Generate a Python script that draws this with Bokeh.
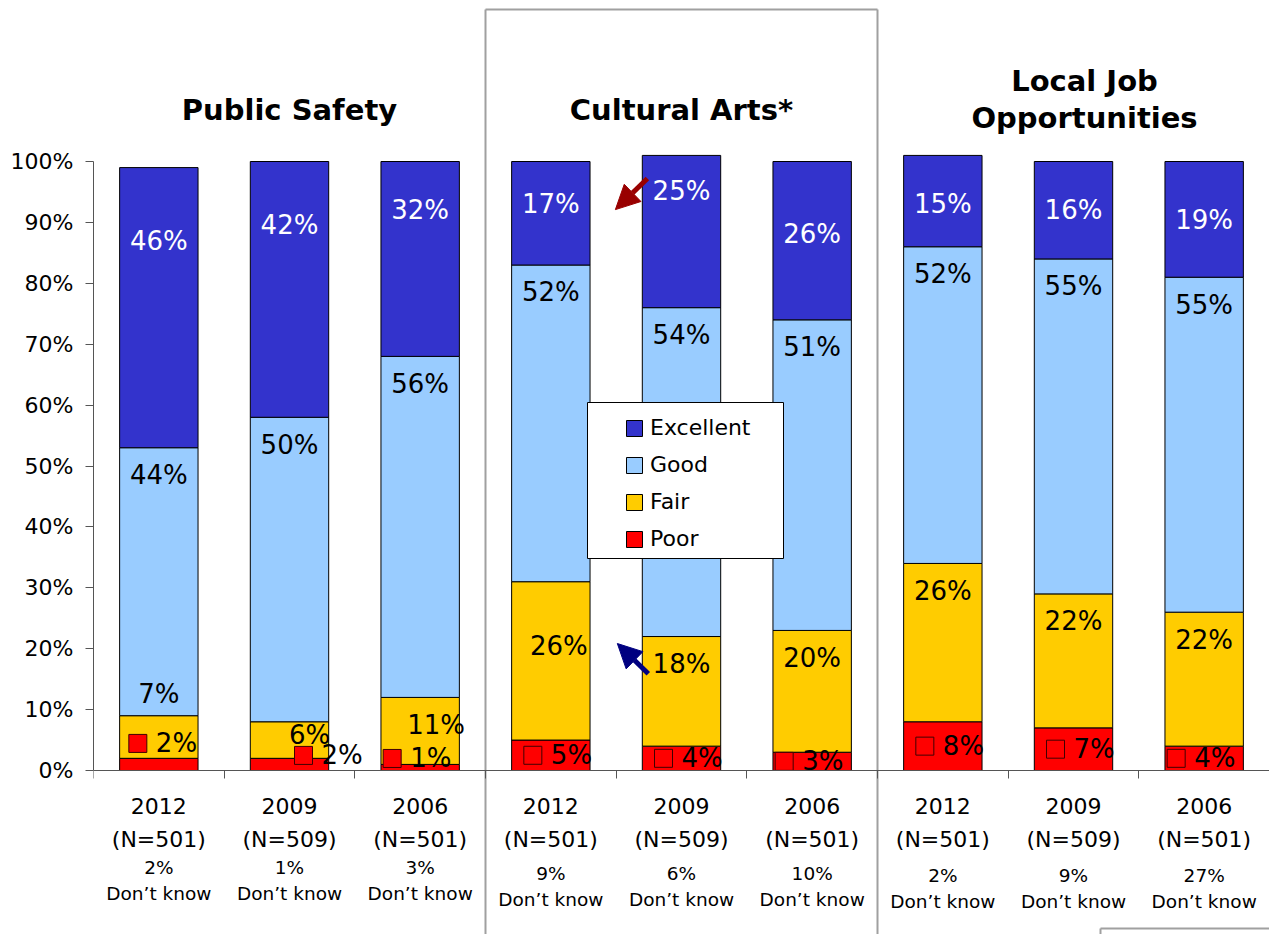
from bokeh.plotting import figure
from bokeh.models import (ColumnDataSource, LinearAxis, FixedTicker, Legend, LegendItem,
                          Arrow, NormalHead, BoxAnnotation, Range1d)
from bokeh.core.properties import value
from bokeh.embed import file_html
from bokeh.resources import INLINE

# ---------------- data ----------------
groups = ["Public Safety", "Cultural Arts*", "Local Job\nOpportunities"]
years = ["2012", "2009", "2006"] * 3
sample_n = ["501", "509", "501"] * 3
dont_know = [2, 1, 3, 9, 6, 10, 2, 9, 27]
series = ["Excellent", "Good", "Fair", "Poor"]
excellent = [46, 42, 32, 17, 25, 26, 15, 16, 19]
good = [44, 50, 56, 52, 54, 51, 52, 55, 55]
fair = [7, 6, 11, 26, 18, 20, 26, 22, 22]
poor = [2, 2, 1, 5, 4, 3, 8, 7, 4]
y_ticks = list(range(0, 101, 10))

# ---------------- style / layout ----------------
COLORS = {"Excellent": "#3333CC", "Good": "#99CCFF", "Fair": "#FFCC00", "Poor": "#FF0000"}
LABEL_COLORS = {"Excellent": "white", "Good": "black", "Fair": "black", "Poor": "black"}
FONT = "DejaVu Sans"
W, H = 1269, 934
LEFT = 93
NCAT = len(years)
PX_X = (W - LEFT) / NCAT
PX_Y = 6.09                      # pixels per percentage point
Y1 = 100 + 161 / PX_Y            # 100% line sits 161px from the top
Y0 = -(H - 770) / PX_Y           # 0% line sits at 770px
BAR_W = 0.6
AXIS_GRAY = "#555555"

p = figure(width=W, height=H, x_range=Range1d(0, NCAT), y_range=Range1d(Y0, Y1),
           x_axis_type=None, y_axis_type=None, toolbar_location=None,
           output_backend="svg", min_border_left=LEFT, min_border_right=0,
           min_border_top=0, min_border_bottom=0)
p.outline_line_color = None
p.grid.visible = False
p.background_fill_color = "white"

# axes
yaxis = LinearAxis(ticker=FixedTicker(ticks=y_ticks), bounds=(0, 100),
                   major_label_overrides={t: f"{t}%" for t in y_ticks},
                   major_tick_out=8, major_tick_in=0, minor_tick_out=0, minor_tick_in=0,
                   major_label_standoff=12, axis_line_color=AXIS_GRAY,
                   major_tick_line_color=AXIS_GRAY,
                   major_label_text_font=FONT, major_label_text_font_size="22px",
                   major_label_text_color="black")
p.add_layout(yaxis, "left")

x_bounds = list(range(NCAT + 1))
xaxis = LinearAxis(ticker=FixedTicker(ticks=x_bounds), fixed_location=0,
                   bounds=(0, NCAT), major_tick_out=8, major_tick_in=0,
                   minor_tick_out=0, minor_tick_in=0,
                   major_label_overrides={t: "" for t in x_bounds},
                   axis_line_color=AXIS_GRAY, major_tick_line_color=AXIS_GRAY)
p.add_layout(xaxis, "below")

# frame boxes (Cultural Arts group, and the corner of the next box at the bottom right)
BOX_TOP = Y1 - 9 / PX_Y
BOX2_TOP = -(928 - 770) / PX_Y
BOX2_LEFT = (1100 - LEFT) / PX_X
p.segment(x0=[3, 6, 3, BOX2_LEFT, BOX2_LEFT], y0=[Y0, Y0, BOX_TOP, Y0, BOX2_TOP],
          x1=[3, 6, 6, BOX2_LEFT, NCAT], y1=[BOX_TOP, BOX_TOP, BOX_TOP, BOX2_TOP, BOX2_TOP],
          line_color="#a0a0a0", line_width=2)

# stacked bars
values = {"Excellent": excellent, "Good": good, "Fair": fair, "Poor": poor}
xs = [i + 0.5 for i in range(NCAT)]
bottoms = {}
running = [0] * NCAT
renderers = {}
for s in ["Poor", "Fair", "Good", "Excellent"]:
    b = list(running)
    t = [b[i] + values[s][i] for i in range(NCAT)]
    src = ColumnDataSource(dict(x=xs, bottom=b, top=t))
    renderers[s] = p.vbar(x="x", width=BAR_W, bottom="bottom", top="top", source=src,
                          fill_color=COLORS[s], line_color="black", line_width=1)
    bottoms[s] = b
    running = t

# data labels (manual nudges of the original, in px: right, up)
NUDGE = {
    (0, "Excellent"): (0, -25), (1, "Excellent"): (0, -15), (3, "Excellent"): (0, 6),
    (4, "Excellent"): (0, 13), (5, "Excellent"): (0, -24), (8, "Excellent"): (0, -10),
    (0, "Fair"): (0, 49), (1, "Fair"): (20, 14), (2, "Fair"): (16, 0), (3, "Fair"): (8, -37),
    (0, "Poor"): (-3, 21), (1, "Poor"): (32, 9), (2, "Poor"): (-10, 9),
    (5, "Poor"): (-10, 0), (8, "Poor"): (-10, 0),
}
for s in series:
    lx, ly, lt = [], [], []
    for i in range(NCAT):
        bot = bottoms[s][i]
        top = bot + values[s][i]
        if s == "Excellent":
            y = top - 8
        elif s == "Poor":
            y = (bot + top) / 2
        else:
            y = top - 4.5
        dx, dy = NUDGE.get((i, s), (0, 0))
        if s == "Poor":
            dx -= 18
        lx.append(xs[i] + dx / PX_X)
        ly.append(y + dy / PX_Y)
        lt.append(f"{values[s][i]}%")
    src = ColumnDataSource(dict(x=lx, y=ly, t=lt))
    if s == "Poor":
        p.scatter(x="x", y="y", source=src, marker="square", size=18,
                  fill_color=COLORS["Poor"], line_color="#400000", line_width=1)
        p.text(x="x", y="y", text="t", source=src, x_offset=18, text_align="left",
               text_baseline="middle", text_font=value(FONT), text_font_size="26px",
               text_color=LABEL_COLORS[s])
    else:
        p.text(x="x", y="y", text="t", source=src, text_align="center",
               text_baseline="middle", text_font=value(FONT), text_font_size="26px",
               text_color=LABEL_COLORS[s])

# category labels under the axis
DK_SHIFT = [0, 0, 0, 6, 6, 6, 8, 8, 8]
cat_src = ColumnDataSource(dict(
    x=xs, y=[0] * NCAT, year=years, n=[f"(N={n})" for n in sample_n],
    dk=[f"{d}%" for d in dont_know], dkt=["Don\u2019t know"] * NCAT,
    off3=[97 + s for s in DK_SHIFT], off4=[123 + s for s in DK_SHIFT]))
p.text(x="x", y="y", text="year", source=cat_src, y_offset=35, text_align="center",
       text_baseline="middle", text_font=value(FONT), text_font_size="22px", text_color="black")
p.text(x="x", y="y", text="n", source=cat_src, y_offset=69, text_align="center",
       text_baseline="middle", text_font=value(FONT), text_font_size="22px", text_color="black")
p.text(x="x", y="y", text="dk", source=cat_src, y_offset="off3", text_align="center",
       text_baseline="middle", text_font=value(FONT), text_font_size="18.5px", text_color="black")
p.text(x="x", y="y", text="dkt", source=cat_src, y_offset="off4", text_align="center",
       text_baseline="middle", text_font=value(FONT), text_font_size="18.5px", text_color="black")

# group titles
title_src = ColumnDataSource(dict(
    x=[3 * g + 1.5 + (11 / PX_X if "\n" in groups[g] else 0) for g in range(len(groups))],
    y=[100] * len(groups), t=groups,
    off=[-62 if "\n" in g else -52 for g in groups]))
p.text(x="x", y="y", text="t", source=title_src, y_offset="off", text_align="center",
       text_baseline="middle", text_font=value(FONT), text_font_style="bold",
       text_font_size="29px", text_line_height=1.1, text_color="black")

# arrows in Cultural Arts
p.add_layout(Arrow(end=NormalHead(size=24, fill_color="#990000", line_color="#990000"),
                   x_start=4.239, y_start=97.2, x_end=3.994, y_end=92.1,
                   line_color="#990000", line_width=5))
p.add_layout(Arrow(end=NormalHead(size=24, fill_color="#000080", line_color="#000080"),
                   x_start=4.246, y_start=15.9, x_end=4.009, y_end=20.85,
                   line_color="#000080", line_width=5))

# legend box + legend
p.add_layout(BoxAnnotation(left=(587 - LEFT) / PX_X, right=(783 - LEFT) / PX_X,
                           top=(770 - 402) / PX_Y, bottom=(770 - 558) / PX_Y,
                           fill_color="white", fill_alpha=1.0, line_color="black",
                           line_alpha=1.0, line_width=1))
legend = Legend(items=[LegendItem(label=s, renderers=[renderers[s]]) for s in series],
                location=(624 - LEFT, H - 551), padding=0, spacing=12, margin=0,
                glyph_width=20, glyph_height=20, label_standoff=6,
                label_text_font=FONT, label_text_font_size="22px", label_text_color="black",
                border_line_color=None, background_fill_alpha=0)
p.add_layout(legend)

open("out.html", "w").write(file_html(p, INLINE))
